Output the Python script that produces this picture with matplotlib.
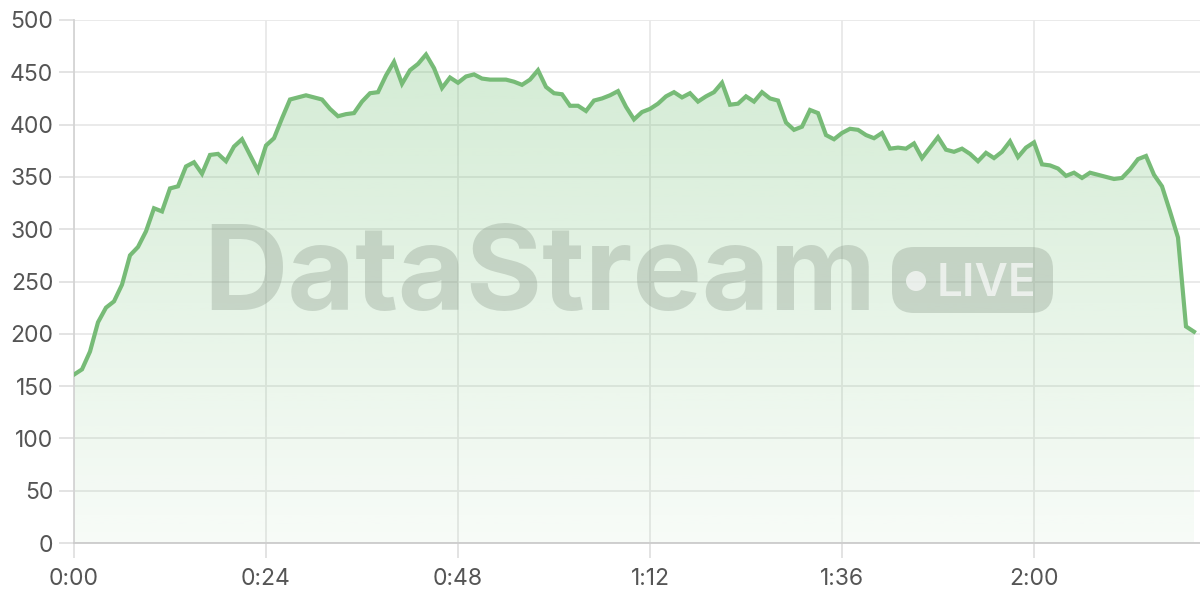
import matplotlib
matplotlib.use("Agg")
import matplotlib.pyplot as plt
import numpy as np
from matplotlib.patches import FancyBboxPatch, Circle

# one reading per minute, 0..140
minutes = np.arange(0, 141)
values = [
    161, 166, 183, 211, 225, 231, 247, 275, 283, 298,
    320, 317, 339, 341, 360, 364, 353, 371, 372, 365,
    379, 386, 371, 356, 380, 387, 406, 424, 426, 428,
    426, 424, 415, 408, 410, 411, 422, 430, 431, 447,
    460, 439, 452, 458, 467, 454, 435, 445, 440, 446,
    448, 444, 443, 443, 443, 441, 438, 443, 452, 436,
    430, 429, 418, 418, 413, 423, 425, 428, 432, 417,
    405, 412, 415, 420, 427, 431, 426, 430, 422, 427,
    431, 440, 419, 420, 427, 422, 431, 425, 423, 402,
    395, 398, 414, 411, 390, 386, 392, 396, 395, 390,
    387, 392, 377, 378, 377, 382, 368, 378, 388, 376,
    374, 377, 372, 365, 373, 368, 374, 384, 369, 378,
    383, 362, 361, 358, 351, 354, 349, 354, 352, 350,
    348, 349, 357, 367, 370, 352, 341, 317, 292, 207,
    202,
]
tick_pos = [0, 24, 48, 72, 96, 120]
tick_labels = ["0:00", "0:24", "0:48", "1:12", "1:36", "2:00"]

plt.rcParams['font.family'] = ['Inter', 'DejaVu Sans']

fig = plt.figure(figsize=(12, 6), dpi=100)
ax = fig.add_axes([74 / 1200, 57 / 600, 1 - 74 / 1200, 523 / 600])
ax.set_xlim(0, 140.75)
ax.set_ylim(0, 500)

line_col = "#77bb77"

# gradient fill under the line
poly = ax.fill_between(minutes, values, 0, color="none", lw=0)
grad = np.zeros((256, 1, 4))
grad[:, 0, 0] = 0x66 / 255
grad[:, 0, 1] = 0xbb / 255
grad[:, 0, 2] = 0x6a / 255
grad[:, 0, 3] = np.linspace(0.05, 0.30, 256)
img = ax.imshow(grad, aspect="auto", origin="lower",
                extent=[0, 140, 0, 500], zorder=1)
img.set_clip_path(poly.get_paths()[0], transform=ax.transData)

ax.plot(minutes, values, color=line_col, lw=3, zorder=3,
        solid_joinstyle="miter")

# watermark (pixel coords, origin bottom-left)
wm = "#8f9e8f"
ax.text(540, 290, "DataStream", transform=None, fontsize=84, fontweight="bold",
        color=wm, alpha=0.36, ha="center", va="baseline", zorder=2)
ax.add_patch(FancyBboxPatch((892, 600 - 313), 161, 66,
                            boxstyle="round,pad=0,rounding_size=22",
                            transform=None, fc=wm, ec="none", alpha=0.36,
                            zorder=2))
ax.add_patch(Circle((916, 600 - 281), 10, transform=None, fc="white",
                    ec="none", alpha=0.65, zorder=2))
ax.text(986, 600 - 296, "LIVE", transform=None, fontsize=33,
        fontweight="semibold", color="white", alpha=0.65,
        ha="center", va="baseline", zorder=2)

ax.set_xticks(tick_pos)
ax.set_xticklabels(tick_labels)
ax.set_yticks(range(0, 501, 50))
ax.grid(True, color="#e8e8e8", lw=1.3, zorder=0)
ax.set_axisbelow(True)
for s in ["top", "right"]:
    ax.spines[s].set_visible(False)
ax.spines["left"].set_color("#d4d4d4")
ax.spines["bottom"].set_color("#cccccc")
ax.spines["left"].set_linewidth(1.3)
ax.spines["bottom"].set_linewidth(1.3)
ax.tick_params(axis="both", colors="#e0e0e0", labelcolor="#555555",
               labelsize=16.5, length=11, width=1.3)
ax.tick_params(axis="y", pad=4)
ax.tick_params(axis="x", pad=7)

fig.savefig("out.png", dpi=100)
